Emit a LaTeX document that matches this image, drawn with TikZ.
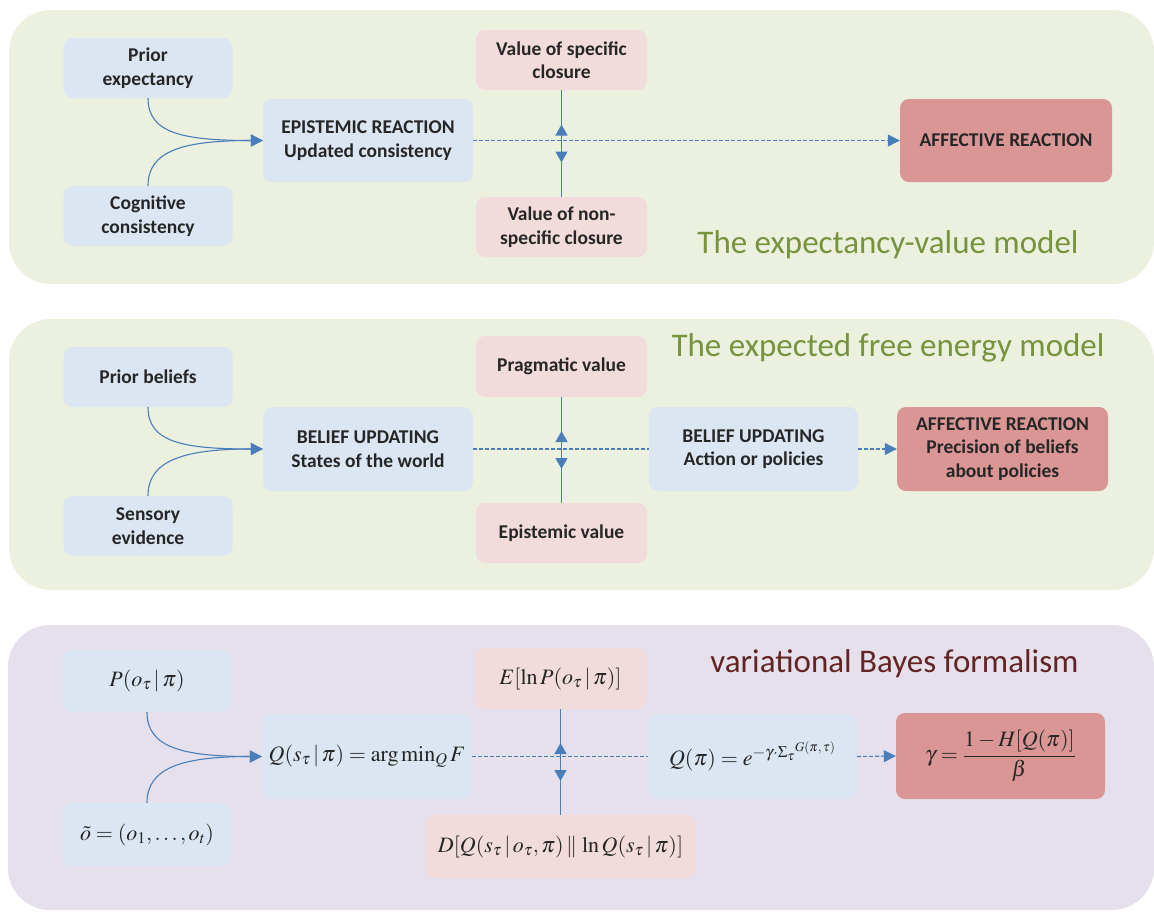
\documentclass[tikz,border=0pt]{standalone}
\usepackage{amsmath}
\usepackage{mathptmx}
\usepackage{fontspec}
\setmainfont{Carlito}
\usetikzlibrary{arrows.meta,decorations.markings}

\definecolor{panelgreen}{RGB}{235,240,223}
\definecolor{panelpurple}{RGB}{229,224,236}
\definecolor{boxblue}{RGB}{220,230,242}
\definecolor{boxpink}{RGB}{242,220,219}
\definecolor{boxred}{RGB}{217,150,148}
\definecolor{flowblue}{RGB}{74,126,187}
\definecolor{titlegreen}{RGB}{119,147,60}
\definecolor{titlered}{RGB}{99,37,35}
\definecolor{inktext}{RGB}{38,38,38}

\tikzset{
  card/.style={rounded corners=9pt, inner sep=0pt, align=center, text=inktext,
    font=\fontsize{19.5}{23.5}\selectfont\bfseries},
  bluecard/.style={card, fill=boxblue},
  pinkcard/.style={card, fill=boxpink},
  redcard/.style={card, fill=boxred},
  mathcard/.style={font=\fontsize{22}{26}\selectfont},
  tip/.style={-{Triangle[length=12pt,width=12pt]}},
  flow/.style={color=flowblue, line width=1.1pt, tip},
  dashflow/.style={color=flowblue, line width=1.1pt, dash pattern=on 4pt off 2pt},
  twoway/.style={color=flowblue, line width=1.2pt, postaction={decorate},
    decoration={markings, mark=at position 0.5 with {
      \draw[flowblue, line width=1.2pt, solid, {Triangle[length=11pt,width=12pt]}-{Triangle[length=11pt,width=12pt]}] (-19pt,0) -- (19pt,0);}}},
  paneltitle/.style={font=\fontsize{33}{38}\selectfont}
}

\begin{document}
\begin{tikzpicture}[x=1pt, y=-1pt]
	\useasboundingbox (0,0) rectangle (1154,911);
	\fill[panelgreen, rounded corners=42pt] (9,10) rectangle (1154,284);
	\fill[panelgreen, rounded corners=42pt] (9,319) rectangle (1154,590);
	\fill[panelpurple, rounded corners=42pt] (8,625) rectangle (1154,910);

	% the expectancy-value model
	\node[bluecard, minimum width=169pt, minimum height=60pt](prior) at (148,68){Prior\\ expectancy};
	\node[bluecard, minimum width=169pt, minimum height=60pt](cogn) at (148,216){Cognitive\\ consistency};
	\node[bluecard, minimum width=210pt, minimum height=83pt](epist) at (368,140.5){EPISTEMIC REACTION\\ Updated consistency};
	\node[pinkcard, minimum width=171pt, minimum height=60pt](spec) at (561.5,60){Value of specific\\ closure};
	\node[pinkcard, minimum width=171pt, minimum height=60pt](nonspec) at (561.5,227){Value of non-\\ specific closure};
	\node[redcard, minimum width=212pt, minimum height=83pt](affectA) at (1006,140.5){AFFECTIVE REACTION};
	\node[paneltitle, text=titlegreen](titleA) at (888,245){The expectancy-value model};
	\draw[flow] (prior.south) .. controls +(0,35) and +(-80,0) .. (epist.west);
	\draw[flow] (cogn.north) .. controls +(0,-35) and +(-80,0) .. (epist.west);
	\draw[dashflow, tip] (epist.east) -- (affectA.west);
	\draw[twoway] (spec.south) -- (nonspec.north);

	% the expected free energy model
	\node[bluecard, minimum width=169pt, minimum height=60pt](beliefs) at (148,377){Prior beliefs};
	\node[bluecard, minimum width=169pt, minimum height=60pt](sensory) at (148,526){Sensory\\ evidence};
	\node[bluecard, minimum width=210pt, minimum height=84pt](states) at (368,449){BELIEF UPDATING\\ States of the world};
	\node[pinkcard, minimum width=171pt, minimum height=61pt](pragm) at (561.5,366.5){Pragmatic value};
	\node[pinkcard, minimum width=171pt, minimum height=60pt](epival) at (561.5,533){Epistemic value};
	\node[bluecard, minimum width=209pt, minimum height=84pt](action) at (753.5,449){BELIEF UPDATING\\ Action or policies};
	\node[redcard, minimum width=211pt, minimum height=84pt](affectB) at (1002.5,449){AFFECTIVE REACTION\\ Precision of beliefs\\ about policies};
	\node[paneltitle, text=titlegreen](titleB) at (888,348){The expected free energy model};
	\draw[flow] (beliefs.south) .. controls +(0,35) and +(-80,0) .. (states.west);
	\draw[flow] (sensory.north) .. controls +(0,-35) and +(-80,0) .. (states.west);
	\draw[dashflow] (states.east) -- (action.west);
	\draw[dashflow, tip] (action.east) -- (affectB.west);
	\draw[twoway] (pragm.south) -- (epival.north);

	% variational Bayes formalism
	\node[bluecard, mathcard, minimum width=169pt, minimum height=62pt](ptau) at (147,681){$P(o_\tau\,|\,\pi)$};
	\node[bluecard, mathcard, minimum width=169pt, minimum height=63pt](otilde) at (147,834.5){$\tilde{o}=(o_1,\ldots,o_t)$};
	\node[bluecard, mathcard, minimum width=210pt, minimum height=85pt](qs) at (367,756.5){$Q(s_\tau\,|\,\pi)=\arg\min_Q F$};
	\node[pinkcard, mathcard, minimum width=171pt, minimum height=61pt](elnp) at (560.5,678.5){$E[\ln P(o_\tau\,|\,\pi)]$};
	\node[pinkcard, mathcard, minimum width=270pt, minimum height=63pt](dkl) at (560.5,846.5){$D[Q(s_\tau\,|\,o_\tau,\pi)\,\|\,\ln Q(s_\tau\,|\,\pi)]$};
	\node[bluecard, mathcard, minimum width=209pt, minimum height=85pt](qpi) at (752.5,756.5){$Q(\pi)=e^{-\gamma\cdot\Sigma_\tau{}^{G(\pi,\,\tau)}}$};
	\node[redcard, mathcard, minimum width=209pt, minimum height=86pt](gamma) at (1000.5,756){$\gamma=\dfrac{1-H[Q(\pi)]}{\beta}$};
	\node[paneltitle, text=titlered](titleC) at (894.5,664){variational Bayes formalism};
	\draw[flow] (ptau.south) .. controls +(0,35) and +(-80,0) .. (qs.west);
	\draw[flow] (otilde.north) .. controls +(0,-35) and +(-80,0) .. (qs.west);
	\draw[dashflow] (qs.east) -- (qpi.west);
	\draw[dashflow, tip] (qpi.east) -- (gamma.west);
	\draw[twoway] (elnp.south) -- (dkl.north);
\end{tikzpicture}
\end{document}
